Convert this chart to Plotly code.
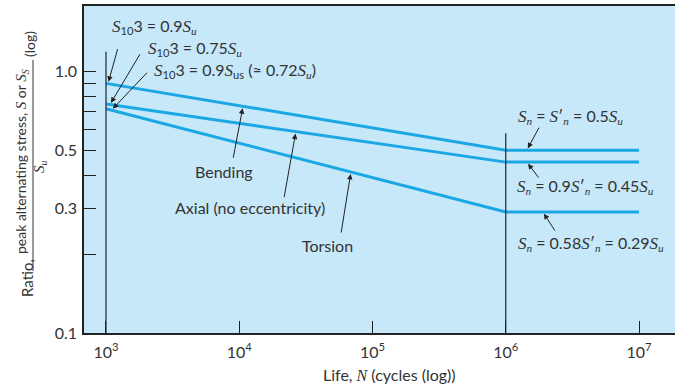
import numpy as np
import plotly.graph_objects as go

# Fatigue-life curves (ratio of peak alternating stress to ultimate strength)
cycles = [1e3, 1e6, 1e7]
bending = [0.9, 0.5, 0.5]
axial = [0.75, 0.45, 0.45]
torsion = [0.72, 0.29, 0.29]

x_tick_vals = [1e3, 1e4, 1e5, 1e6, 1e7]
x_tick_text = ["10<sup>3</sup>", "10<sup>4</sup>", "10<sup>5</sup>", "10<sup>6</sup>", "10<sup>7</sup>"]
y_tick_vals = [0.1, 0.2, 0.3, 0.4, 0.5, 0.6, 0.7, 0.8, 0.9, 1.0]
y_tick_text = ["0.1", "", "0.3", "", "0.5", "", "", "", "", "1.0"]

W, H = 675, 385
ML, MR, MT, MB = 84, 0, 6, 52
PW, PH = W - ML - MR, H - MT - MB

LINE = "#1aa7e4"
BG = "#c6e8f9"
INK = "#222222"
TXT = "#333333"
SANS = "Lato"
SERIF = "Liberation Serif"


def it(s, size=None):
    size_css = f";font-size:{size}px" if size else ""
    return f"<span style='font-family:{SERIF}{size_css}'><i>{s}</i></span>"


def sub(s):
    return f"<sub>{s}</sub>"


def px(x):
    return (x - ML) / PW


def py(y):
    return (H - MB - y) / PH


def on_curve(series, n):
    return 10 ** np.interp(np.log10(n), np.log10(cycles), np.log10(series))


S = it("S", 17)
U = sub(it("u"))
N_ = sub(it("n"))

fig = go.Figure()
for name, vals in [("Bending", bending), ("Axial", axial), ("Torsion", torsion)]:
    fig.add_trace(go.Scatter(x=cycles, y=vals, mode="lines", name=name,
                             line=dict(color=LINE, width=3), showlegend=False,
                             hoverinfo="skip"))

# Vertical reference lines at the knee points of the curves
fig.add_shape(type="line", xref="x", yref="y", x0=cycles[0], x1=cycles[0],
              y0=0.1, y1=1.19, line=dict(color=INK, width=1.2))
fig.add_shape(type="line", xref="x", yref="y", x0=cycles[1], x1=cycles[1],
              y0=0.1, y1=0.58, line=dict(color=INK, width=1.2))

ann = []

# Text labels (paper-pixel placement)
labels = [
    (S + sub("10") + "3 = 0.9" + S + U, 110, 26, "left"),
    (S + sub("10") + "3 = 0.75" + S + U, 146, 48, "left"),
    (S + sub("10") + "3 = 0.9" + S + sub("us") + " (≈ 0.72" + S + U + ")", 152, 70, "left"),
    ("Bending", 224, 171, "center"),
    ("Axial (no eccentricity)", 250, 207, "center"),
    ("Torsion", 327, 245, "center"),
    (S + N_ + " = " + S + "′" + N_ + " = 0.5" + S + U, 516, 117, "left"),
    (S + N_ + " = 0.9" + S + "′" + N_ + " = 0.45" + S + U, 515, 187, "left"),
    (S + N_ + " = 0.58" + S + "′" + N_ + " = 0.29" + S + U, 516, 243, "left"),
]
for text, x, y, anchor in labels:
    ann.append(dict(text=text, xref="paper", yref="paper", x=px(x), y=py(y),
                    xanchor=anchor, yanchor="middle", showarrow=False,
                    font=dict(family=SANS, size=16, color=TXT)))

# Arrows: head on a curve, tail offset in pixels
arrows = [
    (bending, 1.035e3, 10, -36),
    (axial, 1.07e3, 31, -52),
    (torsion, 1.1e3, 37, -39),
    (bending, 10 ** 4.028, -10, 53),
    (axial, 10 ** 4.425, -12, 67),
    (torsion, 10 ** 4.838, -10, 62),
    (bending, 10 ** 6.158, 13, -24),
    (axial, 10 ** 6.158, 13, 17),
    (torsion, 10 ** 6.278, 13, 20),
]
for series, n, dx, dy in arrows:
    ann.append(dict(text="", x=np.log10(n), y=np.log10(on_curve(series, n)),
                    xref="x", yref="y", ax=dx, ay=dy, showarrow=True,
                    arrowhead=2, arrowsize=1.1, arrowwidth=1, arrowcolor=INK,
                    standoff=2))

# Y-axis title as a stacked fraction
ytitle_font = dict(family=SANS, size=14, color=TXT)
S_t = it("S", 15)
ann.append(dict(text="Ratio,", xref="paper", yref="paper", x=px(27), y=py(278),
                textangle=-90, showarrow=False, xanchor="center", yanchor="middle",
                font=dict(family=SANS, size=15, color=TXT)))
ann.append(dict(text="peak alternating stress, " + S_t + " or " + S_t + sub(it("S")),
                xref="paper", yref="paper", x=px(21), y=py(162), textangle=-90,
                showarrow=False, xanchor="center", yanchor="middle", font=ytitle_font))
ann.append(dict(text=S_t + U, xref="paper", yref="paper", x=px(40), y=py(167),
                textangle=-90, showarrow=False, xanchor="center", yanchor="middle",
                font=ytitle_font))
ann.append(dict(text="(log)", xref="paper", yref="paper", x=px(29), y=py(44),
                textangle=-90, showarrow=False, xanchor="center", yanchor="middle",
                font=ytitle_font))
fig.add_shape(type="line", xref="paper", yref="paper", x0=px(33), x1=px(33),
              y0=py(271), y1=py(60), line=dict(color=TXT, width=1))

# X-axis title
ann.append(dict(text="Life, " + it("N", 16) + " (cycles (log))", xref="paper", yref="paper",
                x=px(389), y=py(374), xanchor="center", yanchor="middle",
                showarrow=False, font=dict(family=SANS, size=16, color=TXT)))

fig.update_layout(
    width=W, height=H,
    margin=dict(l=ML, r=MR, t=MT, b=MB, pad=0),
    paper_bgcolor="white", plot_bgcolor=BG,
    annotations=ann,
    xaxis=dict(type="log", range=[2.835, 7.27], tickvals=x_tick_vals, ticktext=x_tick_text,
               ticks="inside", ticklen=12, tickwidth=1, tickcolor=INK,
               showline=True, linecolor=INK, linewidth=1.5, mirror=True,
               showgrid=False, zeroline=False, ticklabelstandoff=4,
               tickfont=dict(family=SANS, size=16, color=TXT)),
    yaxis=dict(type="log", range=[-1, 0.25], tickvals=y_tick_vals, ticktext=y_tick_text,
               ticks="inside", ticklen=12, tickwidth=1, tickcolor=INK,
               showline=True, linecolor=INK, linewidth=1.5,
               showgrid=False, zeroline=False, ticklabelstandoff=2,
               tickfont=dict(family=SANS, size=16, color=TXT)),
)

fig.write_html("out.html")
